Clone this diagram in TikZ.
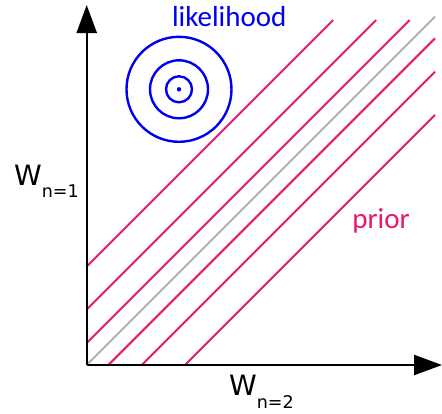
\documentclass[tikz,border=0pt]{standalone}
\usepackage{fontspec}
\setmainfont{Carlito}
\newfontfamily\axisfont{DejaVu Sans}
\usetikzlibrary{arrows.meta}
\definecolor{priorpink}{RGB}{232,24,110}
\definecolor{likeblue}{RGB}{0,0,240}
\definecolor{midgray}{RGB}{170,170,170}
\tikzset{
  axis/.style={line width=2.4pt, draw=black, -{Triangle[width=20pt,length=28pt]}},
  priorline/.style={line width=2pt, draw=priorpink},
  midline/.style={line width=1.8pt, draw=midgray},
  contour/.style={line width=2.4pt, draw=likeblue},
  bigtext/.style={inner sep=0pt, font=\fontsize{29}{29}\selectfont},
  axtext/.style={inner sep=0pt, font=\axisfont\fontsize{28}{28}\selectfont},
}
\newcommand{\axsub}[2]{\raisebox{-#1pt}{\fontsize{17.5}{17.5}\selectfont #2}}
\begin{document}
\begin{tikzpicture}[x=1pt,y=-1pt]
\useasboundingbox (0,0) rectangle (442,413);
\coordinate (O) at (86.7,365);
\coordinate (ytop) at (86.7,5);
\coordinate (xend) at (442,365);
% prior lines
\foreach \c in {98.5,55.5,22}{
  \draw[priorline] (86.7,365-\c) -- (86.7+345-\c,20);
}
\foreach \c in {21.7,55,98.3}{
  \draw[priorline] (86.7+\c,365) -- (435,16.7+\c);
}
\coordinate (gtop) at (435,16.7);
\draw[midline] (O) -- (gtop);
% axes
\draw[axis] (O) -- (ytop);
\draw[axis] (O) -- (xend);
% likelihood contours
\coordinate (C) at (179,89.3);
\draw[contour] (C) circle[radius=52.5pt];
\draw[contour] (C) circle[radius=29pt];
\draw[contour] (C) circle[radius=13pt];
\fill[likeblue] (C) circle[radius=2.2pt];
% labels
\node[bigtext, text=likeblue, anchor=base] (like) at (229.2,26) {likelihood};
\node[bigtext, text=priorpink, anchor=base] (prior) at (381,228) {prior};
\node[axtext, anchor=base west] (w1) at (14,185) {W\axsub{12}{n=1}};
\node[axtext, anchor=base west] (w2) at (229,395) {W\axsub{13}{n=2}};
\end{tikzpicture}
\end{document}
